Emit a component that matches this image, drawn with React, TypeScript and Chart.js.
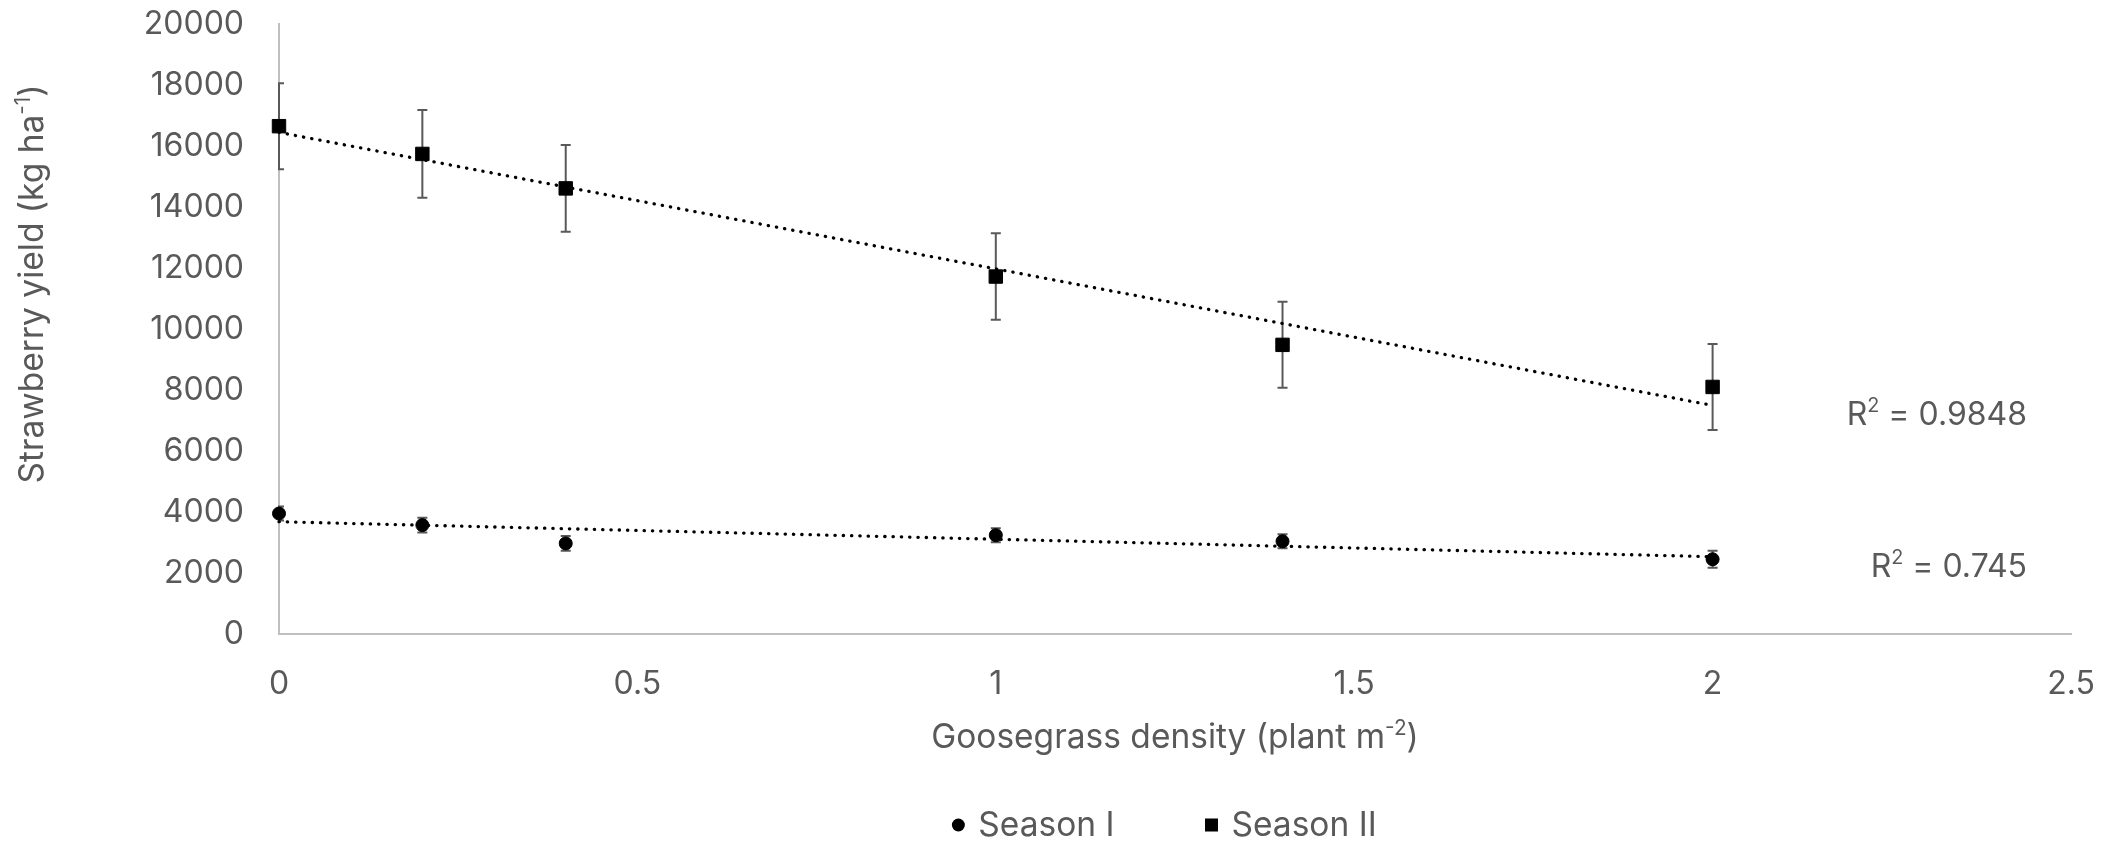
import React, { useEffect, useRef } from "react";
import { Chart, registerables } from "chart.js";

Chart.register(...registerables);

// ---------------- data ----------------
const DENSITY = [0, 0.2, 0.4, 1, 1.4, 2];
const SEASON_I = [3950, 3570, 2970, 3240, 3040, 2450];
const SEASON_I_ERR = [230, 240, 240, 230, 230, 280];
const SEASON_II = [16650, 15740, 14610, 11720, 9480, 8100];
const SEASON_II_ERR = [1410, 1440, 1420, 1420, 1410, 1410];
const SERIES_NAMES = ["Season I", "Season II"];
const R2_VALUES = ["0.745", "0.9848"];
const X_TICKS = [0, 0.5, 1, 1.5, 2, 2.5];
const Y_TICKS = [0, 2000, 4000, 6000, 8000, 10000, 12000, 14000, 16000, 18000, 20000];

// ---------------- style ----------------
const FONT_FAMILY = "Inter, 'Liberation Sans', Arial, sans-serif";
const FONT_SIZE = 32;
const TITLE_SIZE = 33.5;
const TEXT_COLOR = "#595959";
const AXIS_COLOR = "#bfbfbf";

function linearFit(xs: number[], ys: number[]) {
  const n = xs.length;
  const mx = xs.reduce((a, b) => a + b, 0) / n;
  const my = ys.reduce((a, b) => a + b, 0) / n;
  let sxy = 0;
  let sxx = 0;
  for (let i = 0; i < n; i++) {
    sxy += (xs[i] - mx) * (ys[i] - my);
    sxx += (xs[i] - mx) * (xs[i] - mx);
  }
  const m = sxy / sxx;
  const b = my - m * mx;
  return { m, b };
}

function trendPoints(xs: number[], ys: number[]) {
  const { m, b } = linearFit(xs, ys);
  const x0 = Math.min(...xs);
  const x1 = Math.max(...xs);
  return [
    { x: x0, y: m * x0 + b },
    { x: x1, y: m * x1 + b },
  ];
}

type Part = { t: string; sup?: boolean };

function font(size: number) {
  return `${size}px ${FONT_FAMILY}`;
}

function drawRich(
  ctx: CanvasRenderingContext2D,
  parts: Part[],
  x: number,
  y: number,
  align: "left" | "center" | "right",
  size: number
) {
  const supSize = size * 0.62;
  const widths = parts.map((p) => {
    ctx.font = font(p.sup ? supSize : size);
    return ctx.measureText(p.t).width;
  });
  const total = widths.reduce((a, b) => a + b, 0);
  let cx = align === "left" ? x : align === "center" ? x - total / 2 : x - total;
  ctx.textAlign = "left";
  ctx.textBaseline = "alphabetic";
  parts.forEach((p, i) => {
    ctx.font = font(p.sup ? supSize : size);
    ctx.fillText(p.t, cx, p.sup ? y - size * 0.4 : y);
    cx += widths[i];
  });
}

const errorBarPlugin = {
  id: "errorBars",
  beforeDatasetsDraw(chart: any) {
    const { ctx, chartArea } = chart;
    const xs = chart.scales.x;
    const ys = chart.scales.y;
    ctx.save();
    ctx.beginPath();
    ctx.rect(chartArea.left - 1, chartArea.top - 20, chartArea.right - chartArea.left + 2, chartArea.bottom - chartArea.top + 40);
    ctx.clip();
    ctx.strokeStyle = TEXT_COLOR;
    ctx.lineWidth = 2;
    chart.data.datasets.forEach((ds: any) => {
      const errs = ds.errors as number[] | undefined;
      if (!errs) return;
      ds.data.forEach((p: any, i: number) => {
        const px = xs.getPixelForValue(p.x);
        const top = ys.getPixelForValue(p.y + errs[i]);
        const bot = ys.getPixelForValue(p.y - errs[i]);
        ctx.beginPath();
        ctx.moveTo(px, top);
        ctx.lineTo(px, bot);
        ctx.moveTo(px - 5, top);
        ctx.lineTo(px + 5, top);
        ctx.moveTo(px - 5, bot);
        ctx.lineTo(px + 5, bot);
        ctx.stroke();
      });
    });
    ctx.restore();
  },
};

const textPlugin = {
  id: "texts",
  afterDraw(chart: any) {
    const { ctx, chartArea } = chart;
    ctx.save();
    ctx.fillStyle = TEXT_COLOR;

    // x axis title
    const xc = (chartArea.left + chartArea.right) / 2;
    drawRich(
      ctx,
      [{ t: "Goosegrass density (plant m" }, { t: "-2", sup: true }, { t: ")" }],
      xc,
      748,
      "center",
      TITLE_SIZE
    );

    // y axis title (rotated)
    ctx.save();
    ctx.translate(43, 284);
    ctx.rotate(-Math.PI / 2);
    drawRich(
      ctx,
      [{ t: "Strawberry yield (kg ha" }, { t: "-1", sup: true }, { t: ")" }],
      0,
      0,
      "center",
      TITLE_SIZE
    );
    ctx.restore();

    // R² labels
    const r2Y = [577, 425];
    R2_VALUES.forEach((v, i) => {
      drawRich(ctx, [{ t: "R" }, { t: "2", sup: true }, { t: " = " + v }], chartArea.right - 44, r2Y[i], "right", FONT_SIZE);
    });

    // legend
    const items = chart.data.datasets.filter((d: any) => d.legend);
    ctx.font = font(TITLE_SIZE);
    const tws = items.map((d: any) => ctx.measureText(d.label).width);
    const markerOff = 7;
    const textOff = 27;
    const gap = 90;
    const total = tws.reduce((a: number, b: number) => a + b + textOff, 0) + gap * (items.length - 1);
    let sx = 1164 - total / 2;
    const baseline = 836;
    const mid = 825;
    items.forEach((d: any, i: number) => {
      ctx.fillStyle = "#000000";
      const mx = sx + markerOff;
      if (d.pointStyle === "rect") {
        ctx.fillRect(mx - 6.5, mid - 6.5, 13, 13);
      } else {
        ctx.beginPath();
        ctx.arc(mx, mid, 6.5, 0, Math.PI * 2);
        ctx.fill();
      }
      ctx.fillStyle = TEXT_COLOR;
      ctx.font = font(TITLE_SIZE);
      ctx.textAlign = "left";
      ctx.textBaseline = "alphabetic";
      ctx.fillText(d.label, sx + textOff, baseline);
      sx += textOff + tws[i] + gap;
    });
    ctx.restore();
  },
};

export default function App() {
  const ref = useRef<HTMLCanvasElement | null>(null);

  useEffect(() => {
    document.body.style.margin = "0";
    const canvas = ref.current;
    if (!canvas) return;

    const s1 = DENSITY.map((x, i) => ({ x, y: SEASON_I[i] }));
    const s2 = DENSITY.map((x, i) => ({ x, y: SEASON_II[i] }));

    const trendStyle = {
      type: "line" as const,
      showLine: true,
      borderColor: "#000000",
      borderWidth: 3.3,
      borderDash: [0.3, 8],
      borderCapStyle: "round" as const,
      pointRadius: 0,
      fill: false,
      clip: false as any,
    };

    const chart = new Chart(canvas, {
      type: "scatter",
      data: {
        datasets: [
          {
            label: SERIES_NAMES[0],
            data: s1,
            pointStyle: "circle",
            pointRadius: 6.5,
            borderWidth: 1,
            backgroundColor: "#000000",
            borderColor: "#000000",
            clip: false as any,
            errors: SEASON_I_ERR,
            legend: true,
          } as any,
          {
            label: SERIES_NAMES[1],
            data: s2,
            pointStyle: "rect",
            pointRadius: 9.5,
            borderWidth: 1,
            backgroundColor: "#000000",
            borderColor: "#000000",
            clip: false as any,
            errors: SEASON_II_ERR,
            legend: true,
          } as any,
          { ...trendStyle, label: "Trend I", data: trendPoints(DENSITY, SEASON_I) } as any,
          { ...trendStyle, label: "Trend II", data: trendPoints(DENSITY, SEASON_II) } as any,
        ],
      },
      options: {
        animation: false,
        responsive: false,
        devicePixelRatio: 1,
        events: [],
        layout: { padding: { top: 24, right: 55, left: 0, bottom: 0 } },
        plugins: {
          legend: { display: false },
          tooltip: { enabled: false },
          title: { display: false },
        },
        scales: {
          x: {
            type: "linear",
            min: 0,
            max: 2.5,
            afterBuildTicks: (s: any) => {
              s.ticks = X_TICKS.map((v) => ({ value: v }));
            },
            afterFit: (s: any) => {
              s.height = 210;
              s.paddingLeft = 0;
              s.paddingRight = 0;
              s.paddingTop = 0;
              s.paddingBottom = 0;
            },
            grid: { display: false, drawTicks: false },
            border: { display: true, color: AXIS_COLOR, width: 2 },
            ticks: {
              padding: 31,
              color: TEXT_COLOR,
              font: { family: FONT_FAMILY, size: FONT_SIZE },
              maxRotation: 0,
              autoSkip: false,
              callback: (v: any) => String(v),
            },
          },
          y: {
            type: "linear",
            min: 0,
            max: 20000,
            afterBuildTicks: (s: any) => {
              s.ticks = Y_TICKS.map((v) => ({ value: v }));
            },
            afterFit: (s: any) => {
              s.width = 279;
              s.paddingLeft = 0;
              s.paddingRight = 0;
              s.paddingTop = 0;
              s.paddingBottom = 0;
            },
            grid: { display: false, drawTicks: false },
            border: { display: true, color: AXIS_COLOR, width: 2 },
            ticks: {
              padding: 35,
              color: TEXT_COLOR,
              font: { family: FONT_FAMILY, size: FONT_SIZE },
              autoSkip: false,
              callback: (v: any) => String(v),
            },
          },
        },
      },
      plugins: [errorBarPlugin, textPlugin],
    } as any);

    return () => chart.destroy();
  }, []);

  return (
    <div style={{ width: 2126, height: 844, background: "#ffffff" }}>
      <canvas ref={ref} width={2126} height={844} style={{ display: "block" }} />
    </div>
  );
}
